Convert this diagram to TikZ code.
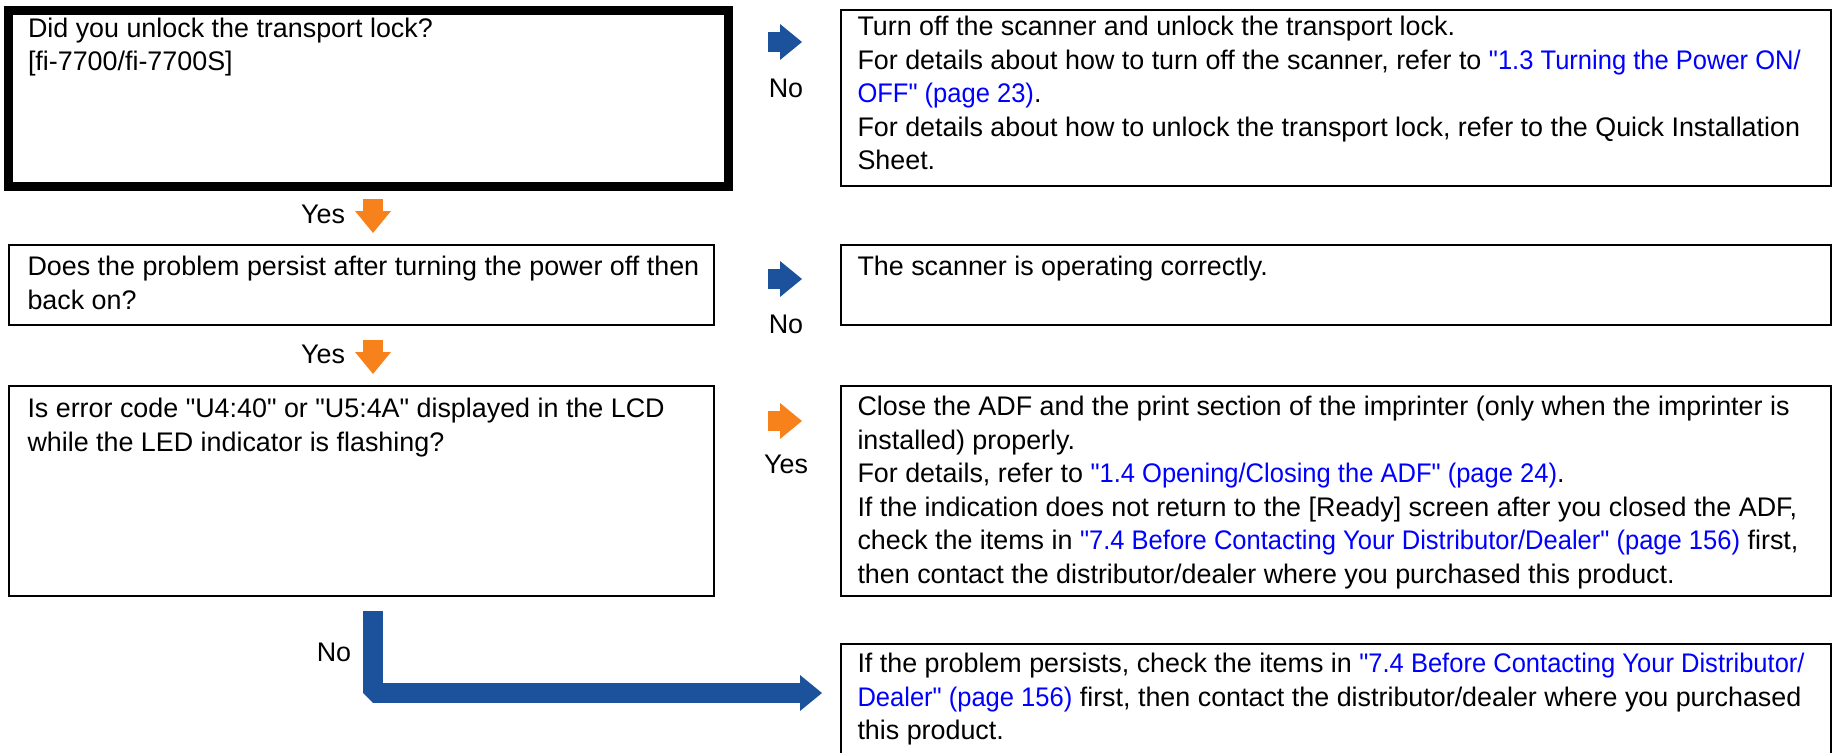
\documentclass[tikz,border=0pt]{standalone}
\usepackage{fontspec}
\setmainfont{Liberation Sans}[Ligatures=TeXOff]
\usepackage{tikz}
\usetikzlibrary{
  arrows.meta,%
  positioning,%
  calc
}
\definecolor{fjblue}{RGB}{28,82,156}
\definecolor{fjorange}{RGB}{247,130,27}
\definecolor{linkblue}{RGB}{0,0,255}
\newdimen\pxu \pxu=0.4pt
\newcommand{\bodyfont}{\fontsize{10.75}{13.4}\selectfont}
\newcommand{\lnk}[1]{{\addfontfeature{FakeStretch=0.95}\color{linkblue}#1}}
\tikzset{x=0.4pt, y=-0.4pt}
\tikzset{
  box/.style={draw, line width=0.8pt, anchor=north west, inner sep=0pt, outer sep=0pt},
  qbox/.style={box, line width=3.6pt},
  txt/.style={anchor=north west, inner sep=0pt, align=left, font=\bodyfont},
  lbl/.style={inner sep=0pt, font=\bodyfont},
  blockarrow/.style={line width=8pt, line join=bevel,
    -{Triangle[length=8.8pt, width=14.4pt, line width=0pt]}},
  noarrow/.style={blockarrow, draw=fjblue},
  yesarrow/.style={blockarrow, draw=fjorange},
}

\begin{document}
\begin{tikzpicture}
  \useasboundingbox (0,0) rectangle (1833,753);
  % question boxes
  \node[qbox, minimum width=720*\pxu, minimum height=176*\pxu] (q1) at (8.5,10.5) {};
  \node[box, minimum width=705*\pxu, minimum height=80*\pxu] (q2) at (9,245) {};
  \node[box, minimum width=705*\pxu, minimum height=210*\pxu] (q3) at (9,386) {};
  % answer boxes
  \node[box, minimum width=990*\pxu, minimum height=176*\pxu] (a1) at (841,10) {};
  \node[box, minimum width=990*\pxu, minimum height=80*\pxu] (a2) at (841,245) {};
  \node[box, minimum width=990*\pxu, minimum height=210*\pxu] (a3) at (841,386) {};
  \node[box, minimum width=990*\pxu, minimum height=136*\pxu] (a4) at (841,644) {};

  \node[txt] (q1t) at ([shift={(19,7)}]q1.north west)
    {Did you unlock the transport lock?\\{}[fi-7700/fi-7700S]};
  \node[txt] (q2t) at ([shift={(18,11)}]q2.north west)
    {Does the problem persist after turning the power off then\\back on?};
  \node[txt] (q3t) at ([shift={(18,12)}]q3.north west)
    {Is error code "U4:40" or "U5:4A" displayed in the LCD\\while the LED indicator is flashing?};
  \node[txt] (a1t) at ([shift={(16,6)}]a1.north west)
    {Turn off the scanner and unlock the transport lock.\\
     For details about how to turn off the scanner, refer to \lnk{"1.3 Turning the Power ON/}\\
     \lnk{OFF" (page 23)}.\\
     For details about how to unlock the transport lock, refer to the Quick Installation\\
     Sheet.};
  \node[txt] (a2t) at ([shift={(16,11)}]a2.north west)
    {The scanner is operating correctly.};
  \node[txt] (a3t) at ([shift={(16,10)}]a3.north west)
    {Close the ADF and the print section of the imprinter (only when the imprinter is\\
     installed) properly.\\
     For details, refer to \lnk{"1.4 Opening/Closing the ADF" (page 24)}.\\
     If the indication does not return to the [Ready] screen after you closed the ADF,\\
     check the items in \lnk{"7.4 Before Contacting Your Distributor/Dealer" (page 156)} first,\\
     then contact the distributor/dealer where you purchased this product.};
  \node[txt] (a4t) at ([shift={(16,9)}]a4.north west)
    {If the problem persists, check the items in \lnk{"7.4 Before Contacting Your Distributor/}\\
     \lnk{Dealer" (page 156)} first, then contact the distributor/dealer where you purchased\\
     this product.};

  % side arrows
  \coordinate (n1s) at (768,42);   \coordinate (n1e) at (802,42);
  \coordinate (n2s) at (768,279);  \coordinate (n2e) at (802,279);
  \coordinate (y3s) at (768,421);  \coordinate (y3e) at (802,421);
  \draw[noarrow] (n1s) -- (n1e);
  \draw[noarrow] (n2s) -- (n2e);
  \draw[yesarrow] (y3s) -- (y3e);
  \node[lbl] (no1) at (786,88) {No};
  \node[lbl] (no2) at (786,324) {No};
  \node[lbl] (yes3) at (786,464) {Yes};

  % down arrows
  \coordinate (y1s) at (373,199);  \coordinate (y1e) at (373,233);
  \coordinate (y2s) at (373,340);  \coordinate (y2e) at (373,374);
  \draw[yesarrow] (y1s) -- (y1e);
  \draw[yesarrow] (y2s) -- (y2e);
  \node[lbl] (yes1) at (323,214) {Yes};
  \node[lbl] (yes2) at (323,354) {Yes};

  % last No
  \coordinate (n4s) at (372.5,611);
  \coordinate (n4c) at (372.5,693);
  \draw[noarrow, shorten >=19*\pxu] (n4s) -- (n4c) -- (n4c -| a4.west);
  \node[lbl] (no4) at (334,652) {No};
\end{tikzpicture}
\end{document}
